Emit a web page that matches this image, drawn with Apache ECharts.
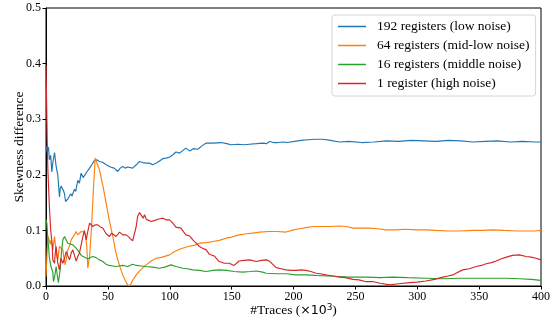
<!DOCTYPE html>
<html>
<head>
<meta charset="utf-8">
<script src="https://cdn.jsdelivr.net/npm/echarts@6/dist/echarts.min.js"></script>
<style>html,body{margin:0;padding:0;background:#fff}#c{width:556px;height:324px}</style>
</head>
<body>
<div id="c"></div>
<script>
var seriesNames = ['192 registers (low noise)', '64 registers (mid-low noise)', '16 registers (middle noise)', '1 register (high noise)'];
var xTicks = [0, 50, 100, 150, 200, 250, 300, 350, 400];
var yTicks = [0.0, 0.1, 0.2, 0.3, 0.4, 0.5];

var blueX = [0,1,2,2.8,3.8,4.7,5.5,6.9,8.2,9.5,10.9,11.5,12.3,13,14.1,15,15.8,17.5,19,20,21,23,24,25.7,27,28.4,30,31,33,35.2,37,39.2,41,43.2,46,48.6,50,52,55,58,60,62,64,66,70,73,75.6,78,81,83.6,86.3,90,94.4,97,100,102.5,105,108,113,116,119,122.7,126,129.5,135,141.6,146,149.7,155,160,164.4,170,175.2,178,180.6,184,187.3,192,195,200.8,206,211.6,218,223.7,230,237,245,255,265,275,285,295,305,315,325,335,345,355,365,375,385,395,400];
var blueY = [0.252,0.24,0.25,0.227,0.235,0.205,0.222,0.24,0.215,0.2,0.16,0.175,0.18,0.176,0.172,0.165,0.152,0.156,0.158,0.166,0.162,0.174,0.17,0.19,0.185,0.203,0.195,0.198,0.205,0.212,0.218,0.226,0.227,0.224,0.222,0.218,0.22,0.214,0.212,0.206,0.212,0.215,0.212,0.214,0.212,0.218,0.224,0.222,0.221,0.221,0.218,0.222,0.229,0.23,0.232,0.236,0.241,0.239,0.248,0.243,0.247,0.246,0.252,0.257,0.257,0.258,0.256,0.254,0.255,0.254,0.255,0.256,0.257,0.256,0.26,0.258,0.258,0.259,0.258,0.26,0.262,0.263,0.264,0.264,0.262,0.259,0.26,0.258,0.259,0.261,0.26,0.262,0.261,0.26,0.262,0.261,0.259,0.26,0.261,0.259,0.26,0.259,0.259];

var orangeX = [0,1.5,2.3,3.5,4.2,5.5,6.9,8.2,9.5,10.9,12,13.6,14.5,15.5,16.5,17.6,19,20.4,22,24.4,25.5,27,28.5,29.8,31,31.9,33,33.8,35.2,36.5,38,39.7,41,43.2,46,48.6,51,54,56,58,60,62,64,66,68,70,72.9,76,81,85,89,94,99.8,104,109,115,121,124,130,134.8,140,145.6,150,156,162,167,172.5,180,187,194,200,204.8,210,215.6,222,230,237,243,248,255,261,268,275,283,290,300,307,315,325,334,345,353,361,370,380,388,395,400];
var orangeY = [0.017,0.089,0.085,0.075,0.083,0.065,0.089,0.06,0.047,0.071,0.068,0.065,0.05,0.038,0.05,0.065,0.072,0.083,0.085,0.098,0.092,0.095,0.098,0.1,0.097,0.092,0.07,0.032,0.053,0.095,0.16,0.23,0.222,0.209,0.18,0.149,0.12,0.089,0.065,0.047,0.033,0.02,0.01,0.002,0.001,0.01,0.02,0.028,0.038,0.045,0.05,0.052,0.056,0.062,0.067,0.071,0.074,0.077,0.078,0.08,0.082,0.086,0.088,0.092,0.094,0.095,0.097,0.098,0.098,0.097,0.101,0.103,0.105,0.107,0.107,0.107,0.108,0.107,0.104,0.104,0.104,0.103,0.101,0.101,0.102,0.101,0.101,0.1,0.099,0.099,0.1,0.1,0.101,0.1,0.099,0.099,0.099,0.1];

var greenX = [0,0.7,1.5,2.8,4,5.5,6,6.9,8.2,9.2,10,11.5,12.5,13.6,15,15.8,17.6,19,21.7,23,24.4,25.7,27,28.5,29.8,32,33.8,35.2,37.8,40.5,43,46,48.6,51,54,56.7,59,62,66,70,73,77,81,86,91.7,96,101,105,110.5,114,118.6,124,129,135,140,146,152,159,165,170,175,178,186,194,202,210,218,228,237,245,253,260,270,280,292,307,320,334,348,361,372,382.6,392,400];
var greenY = [0.12,0.113,0.085,0.05,0.035,0.025,0.008,0.016,0.035,0.018,0.006,0.03,0.06,0.083,0.089,0.086,0.077,0.078,0.074,0.076,0.068,0.065,0.06,0.055,0.053,0.051,0.049,0.05,0.053,0.051,0.047,0.044,0.039,0.037,0.036,0.035,0.036,0.037,0.035,0.039,0.037,0.036,0.035,0.034,0.032,0.034,0.038,0.035,0.032,0.031,0.029,0.028,0.026,0.028,0.029,0.028,0.026,0.025,0.026,0.027,0.025,0.023,0.022,0.022,0.02,0.02,0.019,0.018,0.017,0.016,0.016,0.016,0.015,0.016,0.015,0.014,0.013,0.014,0.014,0.014,0.014,0.013,0.012,0.01];

var redX = [0,0.5,1,1.5,2.8,3.8,5,5.5,6.9,7.5,8.2,9.5,10.9,12,13.6,15,16.3,17.5,19,20.5,21.7,23,24.4,25.5,27,28.5,29.8,31,32.5,33.5,35.2,36.5,37.8,40,41.9,44,46,48.6,50,51.3,53,54,56.7,59.4,62,64.8,67,70,72.9,74,75.6,77,78.5,79.6,81,83,85,88,90.3,92,94.4,97,99.8,102.5,105,109,113,116,119,121.4,124,126.5,129.5,132,136,137.5,140,144,148,152,156,160,164.4,170,174,178,181,186,190,194,198,202,206,210,214,218.3,222,226,232,237,242,248,253,258,264,270,277.6,285,293.7,300,307,314,320.6,325,328.7,332,336.8,342,347.6,352,355.7,360,363.8,368,372,377,382.6,388,392,396,400];
var redY = [0.397,0.33,0.26,0.209,0.14,0.1,0.075,0.047,0.041,0.06,0.071,0.041,0.029,0.05,0.041,0.05,0.062,0.055,0.047,0.06,0.065,0.055,0.045,0.052,0.059,0.075,0.089,0.1,0.083,0.095,0.113,0.116,0.107,0.11,0.11,0.106,0.104,0.094,0.097,0.089,0.095,0.098,0.089,0.097,0.092,0.092,0.088,0.081,0.107,0.125,0.132,0.13,0.122,0.128,0.12,0.118,0.116,0.118,0.12,0.121,0.122,0.119,0.119,0.113,0.106,0.104,0.092,0.09,0.082,0.077,0.071,0.068,0.065,0.057,0.054,0.05,0.044,0.041,0.041,0.037,0.045,0.046,0.047,0.044,0.046,0.047,0.044,0.033,0.031,0.029,0.028,0.028,0.029,0.028,0.026,0.023,0.022,0.02,0.018,0.016,0.015,0.012,0.011,0.008,0.008,0.005,0.002,0.004,0.006,0.007,0.009,0.012,0.016,0.018,0.02,0.024,0.029,0.031,0.035,0.037,0.04,0.042,0.045,0.049,0.052,0.055,0.056,0.053,0.052,0.05,0.047];

var colors = ['#1f77b4', '#ff7f0e', '#2ca02c', '#d62728'];
var xs = [blueX, orangeX, greenX, redX];
var ys = [blueY, orangeY, greenY, redY];

function zip(a, b) { var o = []; for (var i = 0; i < a.length; i++) o.push([a[i], b[i]]); return o; }

var serif = 'Liberation Serif';
var chart = echarts.init(document.getElementById('c'), null, {renderer: 'canvas'});
var series = seriesNames.map(function (n, i) {
  return {
    name: n, type: 'line', data: zip(xs[i], ys[i]), symbol: 'none', showSymbol: false, smooth: false,
    lineStyle: {color: colors[i], width: 1.15}, itemStyle: {color: colors[i]},
    animation: false, clip: true
  };
});

chart.setOption({
  animation: false,
  backgroundColor: '#fff',
  grid: {left: 46, right: 15, top: 8, bottom: 38, show: true, borderColor: '#000', borderWidth: 1, containLabel: false, outerBoundsMode: 'none'},
  legend: {
    left: 332, top: 15, orient: 'vertical',
    data: seriesNames.map(function (n) { return {name: n, icon: 'rect'}; }),
    itemWidth: 28, itemHeight: 1.5, itemGap: 0,
    padding: [2, 6, 3, 6],
    backgroundColor: '#fff', borderColor: '#d6d6d6', borderWidth: 1, borderRadius: 3,
    textStyle: {fontFamily: serif, fontSize: 13.5, color: '#000', lineHeight: 19, padding: [0, 0, 0, 6]}
  },
  xAxis: {
    type: 'value', min: xTicks[0], max: xTicks[xTicks.length - 1], interval: 50,
    axisLine: {lineStyle: {color: '#000', width: 1}},
    axisTick: {show: true, length: 3.5, lineStyle: {color: '#000'}},
    axisLabel: {fontFamily: serif, fontSize: 12, color: '#000', margin: 5},
    splitLine: {show: false},
    name: '{a|#Traces (}{b|×10}{c|3}{a|)}', nameLocation: 'middle', nameGap: 17, nameMoveOverlap: false,
    nameTextStyle: {
      rich: {
        a: {fontFamily: serif, fontSize: 13.5, color: '#000'},
        b: {fontFamily: 'DejaVu Sans', fontSize: 12.5, color: '#000'},
        c: {fontFamily: 'DejaVu Sans', fontSize: 9, color: '#000', verticalAlign: 'top', padding: [0, 0, 6, 0]}
      }
    }
  },
  yAxis: {
    type: 'value', min: yTicks[0], max: yTicks[yTicks.length - 1], interval: 0.1,
    axisLine: {show: true, lineStyle: {color: '#000', width: 1}},
    axisTick: {show: true, length: 3.5, lineStyle: {color: '#000'}},
    axisLabel: {fontFamily: serif, fontSize: 12, color: '#000', margin: 5, formatter: function (v) { return v.toFixed(1); }},
    splitLine: {show: false},
    name: 'Skewness difference', nameLocation: 'middle', nameGap: 20, nameMoveOverlap: false,
    nameTextStyle: {fontFamily: serif, fontSize: 13.5, color: '#000'}
  },
  series: series
});
</script>
</body>
</html>
